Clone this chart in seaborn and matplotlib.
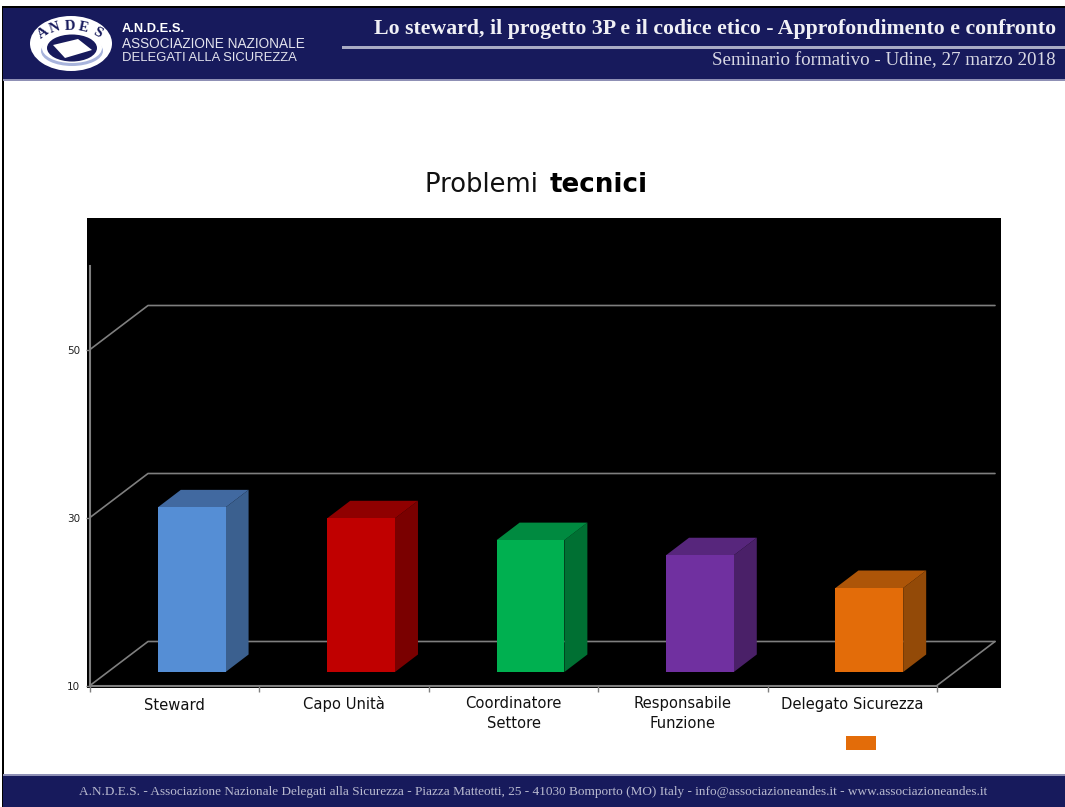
import matplotlib.pyplot as plt
import numpy as np
import pandas as pd
import seaborn as sns
from matplotlib.patches import Ellipse, Polygon, Rectangle
from matplotlib.transforms import Affine2D, IdentityTransform

ruoli = ['Steward', 'Capo Unità', 'Coordinatore\nSettore', 'Responsabile\nFunzione', 'Delegato Sicurezza']
valori = [29.6, 28.3, 25.7, 23.9, 20.0]
col_front = ['#558ed5', '#c00000', '#00b050', '#7030a0', '#e36c09']
col_side = ['#3b608f', '#7a0000', '#007033', '#4a2068', '#934a08']
col_top = ['#4169a0', '#8f0000', '#008a40', '#57267c', '#ad5508']
griglia = [10, 30, 50]

W, H = 1065, 807
NAVY = '#171a5c'
GRID = '#7f7f7f'

sns.set_theme(style='white')
plt.rcParams['font.family'] = ['DejaVu Sans']

fig = plt.figure(figsize=(W / 100, H / 100), dpi=100)


def fig_rect(x0, y0, x1, y1, color):
    # pixel coords, y from the top, behind the axes
    fig.add_artist(Rectangle((x0 / W, 1 - y1 / H), (x1 - x0) / W, (y1 - y0) / H,
                             transform=fig.transFigure, fc=color, ec='none', zorder=-1))


def fig_text(x, y, s, **kw):
    return fig.text(x / W, 1 - y / H, s, **kw)


def fig_ellipse(x, y, w, h, color):
    fig.add_artist(Ellipse((x / W, 1 - y / H), w / W, h / H, transform=fig.transFigure, fc=color, ec='none'))


# slide frame and bands
fig_rect(2, 6, 4, 807, 'black')
fig_rect(2, 6, 1065, 8, 'black')
fig_rect(3, 8, 1065, 79, NAVY)
fig_rect(3, 79, 1065, 81, '#8f90b5')
fig_rect(3, 774, 1065, 776, '#8f90b5')
fig_rect(3, 776, 1065, 807, NAVY)
fig_rect(342, 46, 1065, 49, '#a9abc4')

# logo
fig_ellipse(71, 43.5, 82, 55, 'white')
fig_ellipse(72, 51, 62, 30, '#a8b4dc')
fig_ellipse(72, 48, 60, 30, 'white')
fig_ellipse(72, 48, 50, 27, NAVY)
fig.add_artist(Polygon([(53 / W, 1 - 45 / H), (78 / W, 1 - 39 / H), (92 / W, 1 - 50 / H), (65 / W, 1 - 58 / H)],
                       transform=fig.transFigure, fc='white', ec='none'))
for ch, lx, ly, rot in zip('ANDES', [43, 55, 70, 83, 97], [33, 28, 26, 28, 33], [35, 18, 2, -12, -28]):
    fig_text(lx, ly, ch, family='Liberation Serif', weight='bold', size=10.5, color=NAVY,
             rotation=rot, ha='center', va='center')

# header and footer texts
fig_text(122, 29, 'A.N.D.E.S.', family='Liberation Sans', weight='bold', size=9.3, color='white', va='center')
fig_text(122, 44, 'ASSOCIAZIONE NAZIONALE', family='Liberation Sans', size=9.8, color='#e4e4ee', va='center')
fig_text(122, 58, 'DELEGATI ALLA SICUREZZA', family='Liberation Sans', size=9.4, color='#e4e4ee', va='center')
fig_text(1056, 29, 'Lo steward, il progetto 3P e il codice etico - Approfondimento e confronto',
         family='Liberation Serif', weight='bold', size=15.7, color='#f0f0f5', ha='right', va='center')
fig_text(1056, 61, 'Seminario formativo - Udine, 27 marzo 2018', family='Liberation Serif', size=13.7,
         color='#d8d8e4', ha='right', va='center')
fig_text(533, 792, 'A.N.D.E.S. - Associazione Nazionale Delegati alla Sicurezza - Piazza Matteotti, 25 - 41030 '
         'Bomporto (MO) Italy - info@associazioneandes.it - www.associazioneandes.it',
         family='Liberation Serif', size=9.5, color='#b9bad0', ha='center', va='center')

# title, two weights
fig_text(425, 185.5, 'Problemi ', size=18.6, color='#111111', va='center')
fig_text(550, 185.5, 'tecnici', size=18.8, weight='bold', color='black', va='center')

# black chart background
fig_rect(87, 218, 1001, 688, 'black')

# axes run from the category axis corner to the top of the value axis
ax = fig.add_axes([90 / W, 1 - 685.5 / H, 847 / W, 419.5 / H])
ax.patch.set_alpha(0)

df = pd.DataFrame({'ruolo': ruoli, 'valore': valori})
sns.barplot(data=df, x='ruolo', y='valore', hue='ruolo', palette=col_front, legend=False,
            width=0.4, saturation=1, linewidth=0, ax=ax)

ax.set_xlim(-0.5, len(ruoli) - 0.5)
ax.set_ylim(griglia[0], griglia[0] + 419.5 / 8.4)
ax.set_xlabel('')
ax.set_ylabel('')
ax.set_yticks(griglia)
ax.set_xticks(np.arange(len(ruoli) + 1) - 0.5)
ax.set_xticklabels([])
ax.tick_params(axis='y', labelsize=7.5, length=3, width=1, color=GRID, left=True, pad=4, labelcolor='#222222')
ax.tick_params(axis='x', length=4, width=1, color=GRID, bottom=True)
for s in ['top', 'right']:
    ax.spines[s].set_visible(False)
for s in ['left', 'bottom']:
    ax.spines[s].set_color(GRID)
    ax.spines[s].set_linewidth(1.5)

for i, r in enumerate(ruoli):
    # baseline is the one of the last line
    drop = 24 + 18 * r.count('\n')
    ax.text(i, griglia[0], r, ha='center', va='baseline', fontsize=10.6, color='#111111',
            linespacing=1.4, transform=ax.transData + Affine2D().translate(0, -drop))

# 3D look: pixel offsets for the back wall and for the bar depth
pix = IdentityTransform()
wall = np.array([58, 44])
front = Affine2D().translate(17, 13.5)
depth = np.array([23, 17.5])

x0, x1 = ax.get_xlim()
for g in griglia:
    a = ax.transData.transform((x0, g))
    c = ax.transData.transform((x1, g)) + wall
    ax.plot(*np.column_stack([a, a + wall, c]), transform=pix, color=GRID, lw=1.2, zorder=1, clip_on=False)
a = ax.transData.transform((x1, griglia[0]))
ax.plot(*np.column_stack([a, a + wall]), transform=pix, color=GRID, lw=1.2, zorder=1, clip_on=False)

for bar, val, cs, ct in zip(ax.patches, valori, col_side, col_top):
    bar.set_y(griglia[0])
    bar.set_height(val - griglia[0])
    bar.set_transform(ax.transData + front)
    bar.set_zorder(3)
    bar.set_clip_on(False)
    bl = (ax.transData + front).transform((bar.get_x(), griglia[0]))
    tr = (ax.transData + front).transform((bar.get_x() + bar.get_width(), val))
    br = np.array([tr[0], bl[1]])
    tl = np.array([bl[0], tr[1]])
    ax.add_patch(Polygon([br, br + depth, tr + depth, tr], transform=pix, fc=cs, ec='none', zorder=2, clip_on=False))
    ax.add_patch(Polygon([tl, tl + depth, tr + depth, tr], transform=pix, fc=ct, ec='none', zorder=2, clip_on=False))

# legend swatch as in the slide
fig_rect(846, 736, 876, 750, col_front[-1])

fig.savefig('out.png', dpi=100)
